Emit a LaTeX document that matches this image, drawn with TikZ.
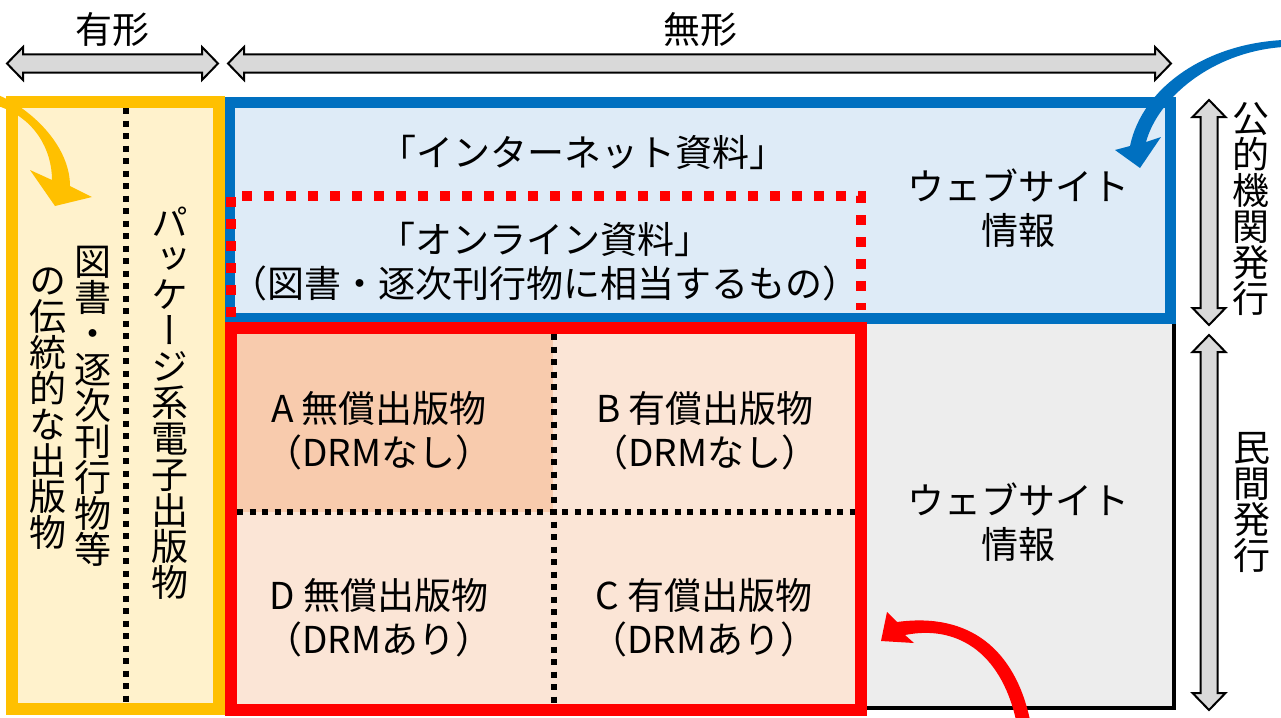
\documentclass[tikz,border=0pt]{standalone}
\usepackage{fontspec}
\setmainfont{Noto Sans CJK JP}
\newfontfamily\tatefont[RawFeature=+vert]{Noto Sans CJK JP}
\usepackage{tikz}

\definecolor{kiiro}{HTML}{FFC000}
\definecolor{kiusu}{HTML}{FFF2CC}
\definecolor{ao}{HTML}{0070C0}
\definecolor{aousu}{HTML}{DEEBF7}
\definecolor{aka}{HTML}{FF0000}
\definecolor{akaA}{HTML}{F8CBAD}
\definecolor{akaB}{HTML}{FBE5D6}
\definecolor{hai}{HTML}{EDEDED}
\definecolor{yaji}{HTML}{D9D9D9}

\newcommand\tatemoji{\tatefont\fontsize{37}{36}\selectfont\setlength{\lineskiplimit}{-100pt}\relax}

\tikzset{
  txt/.style={font=\fontsize{37}{44}\selectfont, align=center, inner sep=0pt},
  tate/.style={font=\tatemoji, align=center, inner sep=0pt},
  kuro dots/.style={line width=6pt, dash pattern=on 6pt off 6.5pt},
  aka dots/.style={draw=aka, line width=10pt, dash pattern=on 10pt off 12pt},
  yajirushi/.style={fill=yaji, draw=black, line width=2pt, line join=miter},
}

% double arrows: from, to, centre line
\newcommand\yokoya[3]{\draw[yajirushi] (#1,#3) -- ({#1+16},{#3-16.5}) -- ({#1+16},{#3-9}) -- ({#2-16},{#3-9}) -- ({#2-16},{#3-16.5}) -- (#2,#3) -- ({#2-16},{#3+16.5}) -- ({#2-16},{#3+9}) -- ({#1+16},{#3+9}) -- ({#1+16},{#3+16.5}) -- cycle;}
\newcommand\tateya[3]{\draw[yajirushi] (#3,#1) -- ({#3-16.5},{#1+17}) -- ({#3-8.5},{#1+17}) -- ({#3-8.5},{#2-17}) -- ({#3-16.5},{#2-17}) -- (#3,#2) -- ({#3+16.5},{#2-17}) -- ({#3+8.5},{#2-17}) -- ({#3+8.5},{#1+17}) -- ({#3+16.5},{#1+17}) -- cycle;}

\begin{document}
\begin{tikzpicture}[x=1pt,y=-1pt]
\useasboundingbox (0,0) rectangle (1281,717);

% top
\node[txt] (yuukei) at (112,30) {有形};
\node[txt] (mukei) at (700,30) {無形};
\yokoya{7}{218}{63.5}
\yokoya{228}{1171}{63.5}

% right
\tateya{100}{325}{1209}
\tateya{335}{710}{1209}
\node[tate] (kouteki) at (1251,209) {公\\的\\機\\関\\発\\行};
\node[tate] (minkan) at (1252,502) {民\\間\\発\\行};

% boxes
\draw[fill=hai, line width=4pt] (229,318) rectangle (1174,708);
\draw[fill=aousu, draw=ao, line width=11pt] (229.5,102) rectangle (1170,318);
\fill[akaB] (231,327.5) rectangle (861,710);
\fill[akaA] (231,327.5) rectangle (553,512);
\draw[kuro dots] (553.5,334) -- (553.5,704);
\draw[kuro dots] (237,512) -- (855,512);
\draw[aka, line width=12pt] (231,327.5) rectangle (861,710);
\draw[aka dots] (231,317) -- (231,196) -- (861,196) -- (861,310);

\draw[fill=kiusu, draw=kiiro, line width=12pt] (12,102) rectangle (218.5,708.5);
\draw[kuro dots] (125.5,108) -- (125.5,703);

% texts
\node[txt] (inet) at (583,152) {「インターネット資料」};
\node[txt] (online) at (545,262) {「オンライン資料」\\（図書・逐次刊行物に相当するもの）};
\node[txt] (web1) at (1018,208) {ウェブサイト\\情報};
\node[txt] (web2) at (1018,522) {ウェブサイト\\情報};
\node[txt] (cellA) at (379,431) {A 無償出版物\\（DRMなし）};
\node[txt] (cellB) at (705,431) {B 有償出版物\\（DRMなし）};
\node[txt] (cellD) at (379,618) {D 無償出版物\\（DRMあり）};
\node[txt] (cellC) at (704,618) {C 有償出版物\\（DRMあり）};

\node[tate] (pkg) at (169.5,403) {パ\\ッ\\ケ\\ー\\ジ\\系\\電\\子\\出\\版\\物};
\node[tate] (dentou1) at (92.5,406) {図\\書\\・\\逐\\次\\刊\\行\\物\\等};
\node[tate] (dentou2) at (47.5,409) {の\\伝\\統\\的\\な\\出\\版\\物};

% curved arrows
\fill[kiiro] (-2,95) .. controls (30,108) and (70,145) .. (70,186) -- (92,197) -- (55,206) -- (30,170) -- (52,180) .. controls (52,150) and (35,118) .. (-2,106) -- cycle;
\fill[ao] (1283,40) .. controls (1205,44) and (1142,88) .. (1130,146) -- (1115,150) -- (1140,168) -- (1161,137) -- (1146,142) .. controls (1158,98) and (1212,52) .. (1283,47) -- cycle;
\fill[aka] (1030,720) .. controls (1015,650) and (970,612) .. (897,622) -- (887,612) -- (881,641) -- (914,643) -- (905,635) .. controls (955,625) and (1000,650) .. (1016,720) -- cycle;

\end{tikzpicture}
\end{document}
